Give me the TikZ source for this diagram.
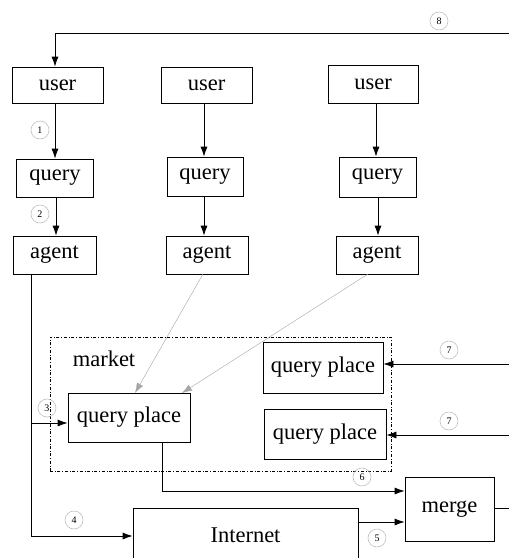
\documentclass[tikz,border=0pt]{standalone}
\usepackage{fontspec}
\setmainfont{Liberation Serif}
\usetikzlibrary{arrows.meta}
\begin{document}
\begin{tikzpicture}[x=1pt,y=-1pt,
  box/.style={draw,line width=0.8pt,inner sep=0pt,font=\fontsize{22.5}{26}\selectfont},
  num/.style={draw=black!25,circle,line width=0.6pt,inner sep=0pt,minimum size=18pt,font=\fontsize{10}{11}\selectfont},
  conn/.style={line width=0.8pt,-{Latex[length=10pt,width=7pt]}},
  thin/.style={line width=0.4pt,draw=black!35,-{Latex[length=10pt,width=7pt]}}]
\useasboundingbox (0,0) rectangle (509,558);
\clip (0,0) rectangle (509,558);
% users
\node[box,minimum width=91pt,minimum height=36pt] (u1) at (57.5,85) {user};
\node[box,minimum width=91pt,minimum height=36pt] (u2) at (206.5,85) {user};
\node[box,minimum width=90pt,minimum height=38pt] (u3) at (373,84) {user};
% queries
\node[box,minimum width=77pt,minimum height=38pt] (q1) at (55,178) {query};
\node[box,minimum width=76pt,minimum height=39pt] (q2) at (205,176.5) {query};
\node[box,minimum width=77pt,minimum height=40pt] (q3) at (377.5,177) {query};
% agents
\node[box,minimum width=83pt,minimum height=38pt] (a1) at (54.5,255) {agent};
\node[box,minimum width=82pt,minimum height=38pt] (a2) at (207,255) {agent};
\node[box,minimum width=82pt,minimum height=38pt] (a3) at (377,255) {agent};
% market
\node[draw,dash dot,line width=0.5pt,minimum width=341pt,minimum height=134pt,inner sep=0pt] (mk) at (220.5,404) {};
\node[font=\fontsize{22.5}{26}\selectfont,inner sep=0pt] (mklabel) at (104,359) {market};
\node[box,minimum width=120pt,minimum height=51pt] (qr1) at (323,367.5) {query place};
\node[box,minimum width=122pt,minimum height=49pt] (ql) at (129,417.5) {query place};
\node[box,minimum width=122pt,minimum height=50pt] (qr2) at (325,434) {query place};
% merge and internet
\node[box,minimum width=89pt,minimum height=64pt] (mg) at (449.5,509) {merge};
\node[box,minimum width=225pt,minimum height=54pt] (in) at (245.5,535) {Internet};
% coordinates
\coordinate (r8) at (509,33);
\coordinate (c8) at (55,33);
\coordinate (r7a) at (509,364);
\coordinate (r7b) at (509,435);
\coordinate (rm) at (509,508);
\coordinate (a1s) at (31,274);
\coordinate (a1b) at (31,536);
\coordinate (j3) at (31,423);
\coordinate (a2s) at (203,274);
\coordinate (a3s) at (368,274);
\coordinate (t2) at (135,393);
\coordinate (t3) at (182,393);
\coordinate (qls) at (162,442);
\coordinate (qlb) at (162,491);
\coordinate (ins) at (358,522);
% connectors
\draw[conn] (r8) -- (c8) -- (c8 |- u1.north);
\draw[conn] (u1.south -| q1.north) -- (q1.north);
\draw[conn] (u2.south -| 204,0) -- (q2.north -| 204,0);
\draw[conn] (u3.south -| 376,0) -- (q3.north -| 376,0);
\draw[conn] (q1.south -| 56,0) -- (a1.north -| 56,0);
\draw[conn] (q2.south -| 204,0) -- (a2.north -| 204,0);
\draw[conn] (q3.south -| 378,0) -- (a3.north -| 378,0);
\draw[conn] (a1s) -- (a1b) -- (in.west |- a1b);
\draw[conn] (j3) -- (ql.west |- j3);
\draw[thin] (a2s) -- (t2);
\draw[thin] (a3s) -- (t3);
\draw[conn] (qls) -- (qlb) -- (mg.west |- qlb);
\draw[conn] (ins) -- (mg.west |- ins);
\draw[line width=0.8pt] (mg.east |- rm) -- (rm);
\draw[conn] (r7a) -- (qr1.east |- r7a);
\draw[conn] (r7b) -- (qr2.east |- r7b);
% number labels
\node[num] (n8) at (439,21) {8};
\node[num] (n1) at (40,130) {1};
\node[num] (n2) at (40,214) {2};
\node[num] (n3) at (47,408) {3};
\node[num] (n4) at (74,520) {4};
\node[num] (n5) at (377,538) {5};
\node[num] (n6) at (362,477) {6};
\node[num] (n7a) at (449,350) {7};
\node[num] (n7b) at (449,421) {7};
\end{tikzpicture}
\end{document}
